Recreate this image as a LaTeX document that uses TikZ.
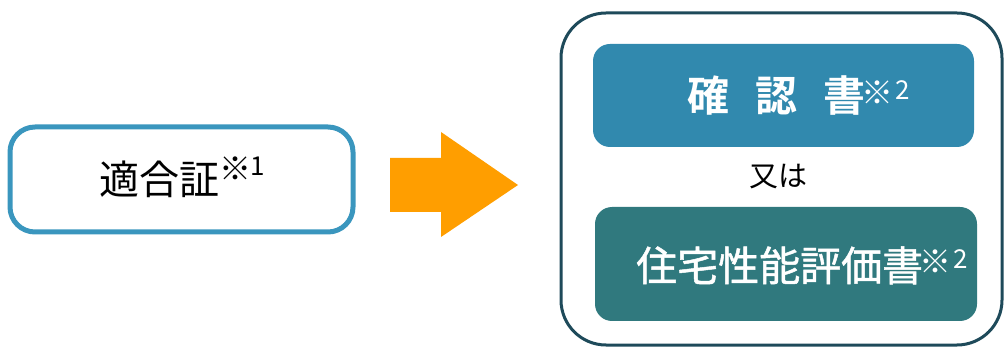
\documentclass[tikz,border=0pt]{standalone}
\usepackage{fontspec}
\setmainfont{Noto Sans CJK JP}
\newfontfamily\jpb{Noto Sans CJK JP Bold}
\newfontfamily\jpm[FakeBold=1.2]{Noto Sans CJK JP}
\newfontfamily\jpr{Noto Sans CJK JP}
\definecolor{leftblue}{HTML}{3A96BE}
\definecolor{topblue}{HTML}{3189AE}
\definecolor{teal}{HTML}{30797E}
\definecolor{outerc}{HTML}{1E4A5A}
\definecolor{arrowc}{HTML}{FF9E00}
\tikzset{
  docbox/.style={rounded corners=17pt, inner sep=0pt, draw=none}
}
% #1 raise, #2 gap between mark and digit, #3 digit
\newcommand{\supmark}[3]{\raisebox{\dimexpr#1-4.5pt\relax}{\jpr\fontsize{32}{32}\selectfont ※}\hspace{#2}\raisebox{#1}{\jpr\fontsize{26}{26}\selectfont #3}}
\begin{document}
\begin{tikzpicture}[x=1pt,y=-1pt]
\useasboundingbox (0,0) rectangle (1004,347);
% left box
\node[draw=leftblue, line width=5pt, rounded corners=25pt, minimum width=343pt, minimum height=105pt, inner sep=0pt] (tek) at (181.5,179.5) {};
\node[font=\fontsize{40}{40}\selectfont, inner sep=0pt, anchor=base west] (tekt) at (99,195) {適合証\supmark{19pt}{-1pt}{1}};
% arrow
\fill[arrowc] (390,158) -- (441,158) -- (441,132) -- (518,185) -- (441,237) -- (441,212) -- (390,212) -- cycle;
% outer box
\node[draw=outerc, line width=3pt, rounded corners=45pt, minimum width=441pt, minimum height=332pt, inner sep=0pt] (outer) at (781.5,179) {};
% top box
\node[docbox, fill=topblue, minimum width=381pt, minimum height=103pt] (kakunin) at (783.5,95.5) {};
\node[text=white, font=\jpb\fontsize{42}{42}\selectfont, inner sep=0pt, anchor=base west] (kakunint) at (687,112) {確\hspace{26pt}認\hspace{26pt}書\hspace{-4pt}\supmark{12pt}{2pt}{2}};
% or
\node[font=\fontsize{29}{29}\selectfont, inner sep=0pt] (mata) at (778.5,177) {又は};
% bottom box
\node[docbox, fill=teal, minimum width=382pt, minimum height=114pt] (jutaku) at (786,264) {};
\node[text=white, font=\jpm\fontsize{41}{41}\selectfont, inner sep=0pt, anchor=base west] (jutakut) at (636,281) {住宅性能評価書\hspace{-4pt}\supmark{12pt}{2pt}{2}};
\end{tikzpicture}
\end{document}
